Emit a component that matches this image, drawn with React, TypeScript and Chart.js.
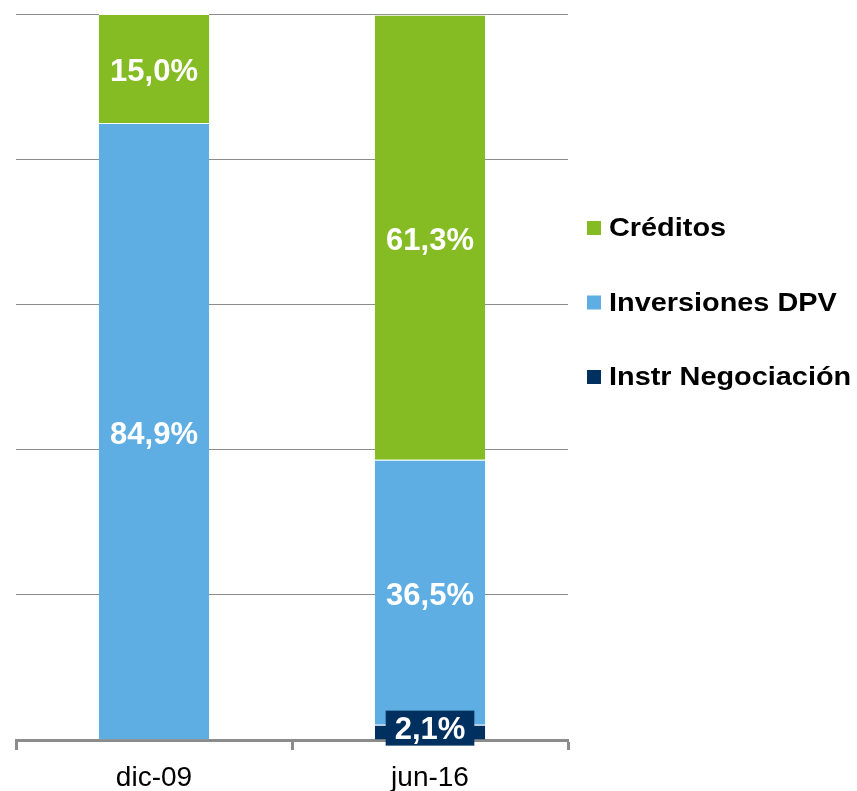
import React, { useEffect, useRef } from "react";
import { Chart, registerables } from "chart.js";

Chart.register(...registerables);

const categories = ["dic-09", "jun-16"];
const instrNegociacion = [0.1, 2.1];
const inversionesDPV = [84.9, 36.5];
const creditos = [15.0, 61.3];
const seriesNames = ["Instr Negociación", "Inversiones DPV", "Créditos"];
const colors = ["#00305F", "#5EAEE3", "#85BC23"];
const yTicks = [0, 20, 40, 60, 80, 100];

const FONT = "'Liberation Sans', Arial, sans-serif";

const segLabels = {
  id: "segLabels",
  afterDraw(chart: any) {
    const ctx = chart.ctx;
    ctx.save();
    ctx.font = `bold 31px ${FONT}`;
    ctx.textAlign = "center";
    ctx.textBaseline = "middle";
    chart.data.datasets.forEach((ds: any, di: number) => {
      const meta = chart.getDatasetMeta(di);
      meta.data.forEach((bar: any, i: number) => {
        const v = ds.data[i];
        if (v < 1) return;
        const { x, y, base } = bar.getProps(["x", "y", "base"], true);
        let cy = (y + base) / 2;
        const text = v.toFixed(1).replace(".", ",") + "%";
        if (di === 0) {
          cy -= 4;
          const w = ctx.measureText(text).width + 18;
          const h = 35;
          ctx.fillStyle = colors[0];
          ctx.fillRect(x - w / 2, cy - h / 2, w, h);
          ctx.fillStyle = "#FFFFFF";
          ctx.fillText(text, x, cy + 2);
        } else {
          ctx.fillStyle = "#FFFFFF";
          ctx.fillText(text, x, cy + 4);
        }
      });
    });
    ctx.restore();
  },
};

const sideLegend = {
  id: "sideLegend",
  afterDraw(chart: any) {
    const ctx = chart.ctx;
    const area = chart.chartArea;
    ctx.save();
    ctx.font = `bold 26px ${FONT}`;
    ctx.textAlign = "left";
    ctx.textBaseline = "middle";
    const order = [2, 1, 0];
    const x0 = area.right + 19;
    const yStart = 228;
    const gap = 74.5;
    order.forEach((di, k) => {
      const ds = chart.data.datasets[di];
      const cy = yStart + k * gap;
      ctx.fillStyle = ds.backgroundColor;
      ctx.fillRect(x0, cy - 7, 14, 14);
      ctx.fillStyle = "#000000";
      ctx.save();
      ctx.translate(x0 + 22, cy + 1);
      ctx.scale(1.11, 1);
      ctx.fillText(ds.label, 0, 0);
      ctx.restore();
    });
    ctx.restore();
  },
};

export default function App() {
  const ref = useRef<HTMLCanvasElement | null>(null);
  useEffect(() => {
    if (!ref.current) return;
    const mk = (label: string, data: number[], color: string) => ({
      label,
      data,
      backgroundColor: color,
      borderColor: "#FFFFFF",
      borderWidth: { top: 1, left: 0, right: 0, bottom: 0 },
      borderSkipped: false,
      categoryPercentage: 1,
      barPercentage: 0.4,
    });
    const chart = new Chart(ref.current, {
      type: "bar",
      data: {
        labels: categories,
        datasets: [
          mk(seriesNames[0], instrNegociacion, colors[0]),
          mk(seriesNames[1], inversionesDPV, colors[1]),
          mk(seriesNames[2], creditos, colors[2]),
        ],
      },
      options: {
        responsive: false,
        animation: false,
        layout: { padding: { left: 16, right: 289, top: 14, bottom: 0 } },
        plugins: { legend: { display: false }, tooltip: { enabled: false } },
        scales: {
          x: {
            stacked: true,
            offset: true,
            grid: {
              offset: true,
              drawOnChartArea: false,
              drawTicks: true,
              tickLength: 10,
              tickWidth: 3,
              tickColor: "#8C8C8C",
            },
            border: { display: true, color: "#8C8C8C", width: 3 },
            ticks: {
              color: "#000000",
              font: { family: FONT, size: 28 },
              padding: 11,
            },
            afterFit: (s: any) => {
              s.height = 51;
            },
          },
          y: {
            stacked: true,
            min: 0,
            max: 100,
            afterBuildTicks: (s: any) => {
              s.ticks = yTicks.map((v) => ({ value: v }));
            },
            grid: { color: "#8C8C8C", lineWidth: 1, drawTicks: false },
            border: { display: false },
            ticks: { display: false },
            afterFit: (s: any) => {
              s.width = 0;
            },
          },
        },
      },
      plugins: [segLabels, sideLegend],
    } as any);
    return () => chart.destroy();
  }, []);
  return (
    <canvas
      ref={ref}
      width={857}
      height={791}
      style={{ position: "fixed", left: 0, top: 0, display: "block" }}
    />
  );
}
